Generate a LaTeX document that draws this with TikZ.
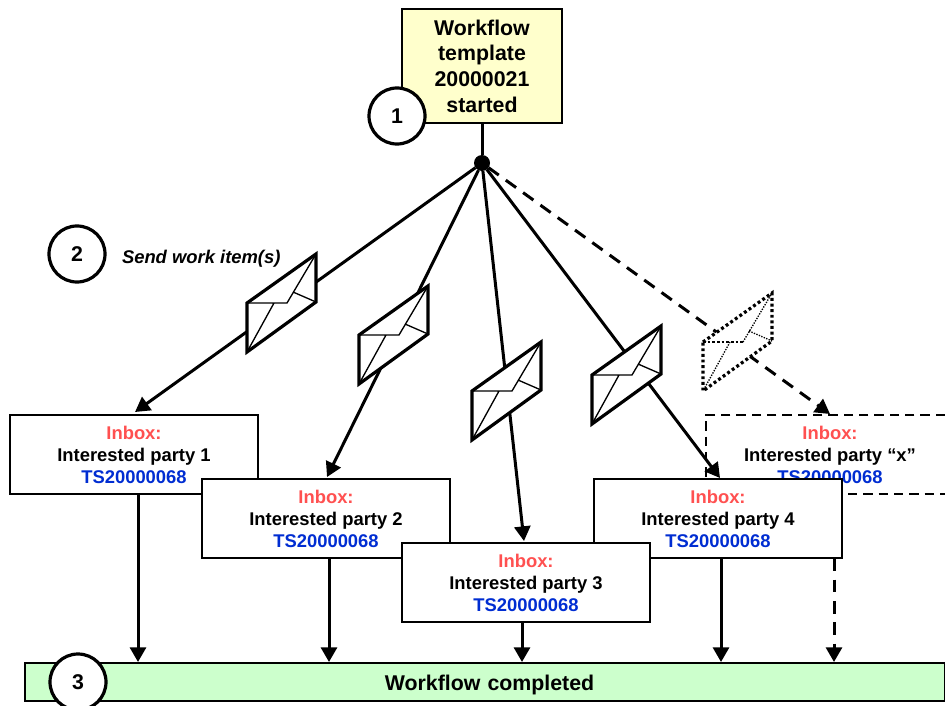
\documentclass[tikz,border=0pt]{standalone}
\usepackage{fontspec}
\setmainfont{Liberation Sans}
\definecolor{inboxred}{RGB}{255,80,80}
\definecolor{tsblue}{RGB}{0,45,210}
\definecolor{startyellow}{RGB}{255,255,204}
\definecolor{endgreen}{RGB}{204,255,204}
\usetikzlibrary{arrows.meta}
\tikzset{
  every node/.style={font=\bfseries,outer sep=0pt},
  inbox/.style={draw=black,line width=1.6pt,fill=white,minimum width=186pt,minimum height=59.5pt,inner sep=0pt,align=center,font=\bfseries\fontsize{13.8}{16.5}\selectfont},
  inboxdash/.style={inbox,draw=none},
  num/.style={circle,draw=black,line width=2.4pt,fill=white,minimum size=42pt,inner sep=0pt,font=\bfseries\fontsize{16}{18}\selectfont},
  link/.style={line width=2.25pt,-{Triangle[length=11pt,width=12pt]}},
  linkdash/.style={link,dash pattern=on 9.5pt off 6.5pt},
  pics/envelope/.style={code={
    \draw[fill=white,line width=2.4pt] (0,0)--(69,-49)--(69,-1)--(0,49)--cycle;
    \draw[line width=1pt] (0,0)--(40,0)--(69,-49) (27,0)--(0,49) (46,-11)--(69,-1);
  }},
  pics/dottedenvelope/.style={code={
    \draw[fill=white,line width=2.4pt,dash pattern=on 2.2pt off 2pt] (0,0)--(69,-49)--(69,-1)--(0,49)--cycle;
    \draw[line width=1pt,dash pattern=on 1pt off 1pt] (27,0)--(0,49) (46,-11)--(69,-1) (40,0)--(69,-49);
    \draw[line width=1.6pt,dash pattern=on 2pt off 1.5pt] (0,0)--(40,0);
  }}
}
\newcommand{\inboxtext}[1]{{\color{inboxred}Inbox:}\\#1\\{\color{tsblue}TS20000068}}
\begin{document}
\begin{tikzpicture}[x=0.75pt,y=-0.75pt]
\useasboundingbox (0,0) rectangle (945,706);
\begin{scope}
\clip (0,0) rectangle (945,706);
\node[draw=black,line width=1.6pt,fill=endgreen,minimum width=690pt,minimum height=28.5pt,inner sep=0pt,anchor=north west,font=\bfseries\fontsize{16}{18}\selectfont,text width=690pt,align=center] (done) at (25,663) {\hspace*{6.8pt}\raisebox{-6.5pt}[0pt][0pt]{Workflow completed}};
\node[draw=black,line width=1.6pt,fill=startyellow,minimum width=120pt,minimum height=85.5pt,inner sep=0pt,align=center,font=\bfseries\fontsize{16}{19.2}\selectfont] (start) at (482,66) {Workflow\\template\\20000021\\started};
\node[circle,fill=black,minimum size=12pt,inner sep=0pt] (hub) at (482,163) {};
\draw[line width=2.25pt] (start.south) -- (hub);
\node[inboxdash,anchor=north west] (boxx) at (706,415) {\inboxtext{Interested party “x”}};
\draw[line width=1.6pt,dash pattern=on 7pt off 4.5pt] (945,415) -- (706,415) -- (706,494) -- (945,494);
\coordinate (t1) at (135,412);
\coordinate (t2) at (327,477);
\coordinate (t3) at (524,541);
\coordinate (t4) at (720,478);
\coordinate (tx) at (830,414);
\draw[link] (hub) -- (t1);
\draw[link] (hub) -- (t2);
\draw[link] (hub) -- (t3);
\draw[link] (hub) -- (t4);
\draw[linkdash] (hub) -- (tx);
\pic at (247,303) {envelope};
\pic at (359,335) {envelope};
\pic at (472,391) {envelope};
\pic at (592,375) {envelope};
\pic at (703,342) {dottedenvelope};
\node[inbox,anchor=north west] (box1) at (10,415) {\inboxtext{Interested party 1}};
\node[inbox,anchor=north west] (box2) at (202,479) {\inboxtext{Interested party 2}};
\node[inbox,anchor=north west] (box4) at (594,479) {\inboxtext{Interested party 4}};
\node[inbox,anchor=north west] (box3) at (402,543) {\inboxtext{Interested party 3}};
\coordinate (b1) at (138,662);
\coordinate (b2) at (329,662);
\coordinate (b3) at (522,662);
\coordinate (b4) at (721,662);
\coordinate (bx) at (834,662);
\draw[link] (box1.south -| b1) -- (b1);
\draw[link] (box2.south -| b2) -- (b2);
\draw[link] (box3.south -| b3) -- (b3);
\draw[link] (box4.south -| b4) -- (b4);
\draw[linkdash] (box4.south -| bx) -- (bx);
\node[num] (n1) at (397,116) {1};
\node[num] (n2) at (77,254) {2};
\node[num] (n3) at (78,682) {3};
\node[anchor=west,inner sep=0pt,font=\bfseries\itshape\fontsize{13.8}{14}\selectfont] (send) at (122,259) {Send work item(s)};
\end{scope}
\end{tikzpicture}
\end{document}
